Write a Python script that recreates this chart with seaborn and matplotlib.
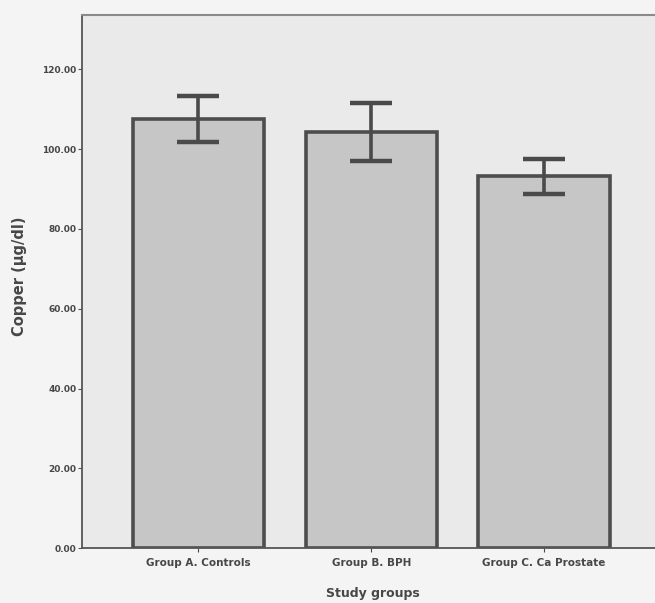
import matplotlib
matplotlib.use('Agg')
import matplotlib.pyplot as plt
import seaborn as sns
import numpy as np

# data
groups = ['Group A. Controls', 'Group B. BPH', 'Group C. Ca Prostate']
means = [107.5, 104.3, 93.2]
errors = [5.7, 7.3, 4.4]
y_ticks = [0, 20, 40, 60, 80, 100, 120]

sns.set_theme(style='white')
plt.rcParams['font.family'] = ['DejaVu Sans']

fig = plt.figure(figsize=(6.55, 6.03), dpi=100, facecolor='#f4f4f4')
ax = fig.add_axes([0.125, 0.091, 0.89, 0.884])
ax.set_facecolor('#eaeaea')

sns.barplot(x=groups, y=means, ax=ax, color='#c6c6c6', width=0.76,
            edgecolor='#4d4d4d', linewidth=2.6, saturation=1, errorbar=None)
ax.errorbar(np.arange(len(groups)), means, yerr=errors, fmt='none',
            ecolor='#4a4a4a', elinewidth=2.6, capsize=15, capthick=3.2)

ax.set_xlim(-0.675, 2.70)
ax.set_ylim(0, 133.6)
ax.set_yticks(y_ticks)
ax.set_yticklabels([f'{v:.2f}' for v in y_ticks], fontsize=6.5, fontweight='bold',
                   color='#474747')
ax.tick_params(axis='x', labelsize=7.5, colors='#474747', length=3, width=0.8,
               bottom=True, pad=4)
for lbl in ax.get_xticklabels():
    lbl.set_fontweight('bold')
ax.tick_params(axis='y', length=3, width=0.8, left=True, pad=1, color='#555555')

ax.set_ylabel('Copper (µg/dl)', fontsize=10.5, fontweight='bold', color='#474747')
ax.yaxis.set_label_coords(-0.094, 0.51)
ax.set_xlabel('Study groups', fontsize=9, fontweight='bold', color='#474747',
              labelpad=14)

for side in ['left', 'bottom']:
    ax.spines[side].set_color('#555555')
    ax.spines[side].set_linewidth(1.3)
ax.spines['top'].set_color('#8a8a8a')
ax.spines['top'].set_linewidth(1.5)
ax.spines['right'].set_visible(False)

plt.savefig('out.png', dpi=100, facecolor=fig.get_facecolor())
plt.close()
